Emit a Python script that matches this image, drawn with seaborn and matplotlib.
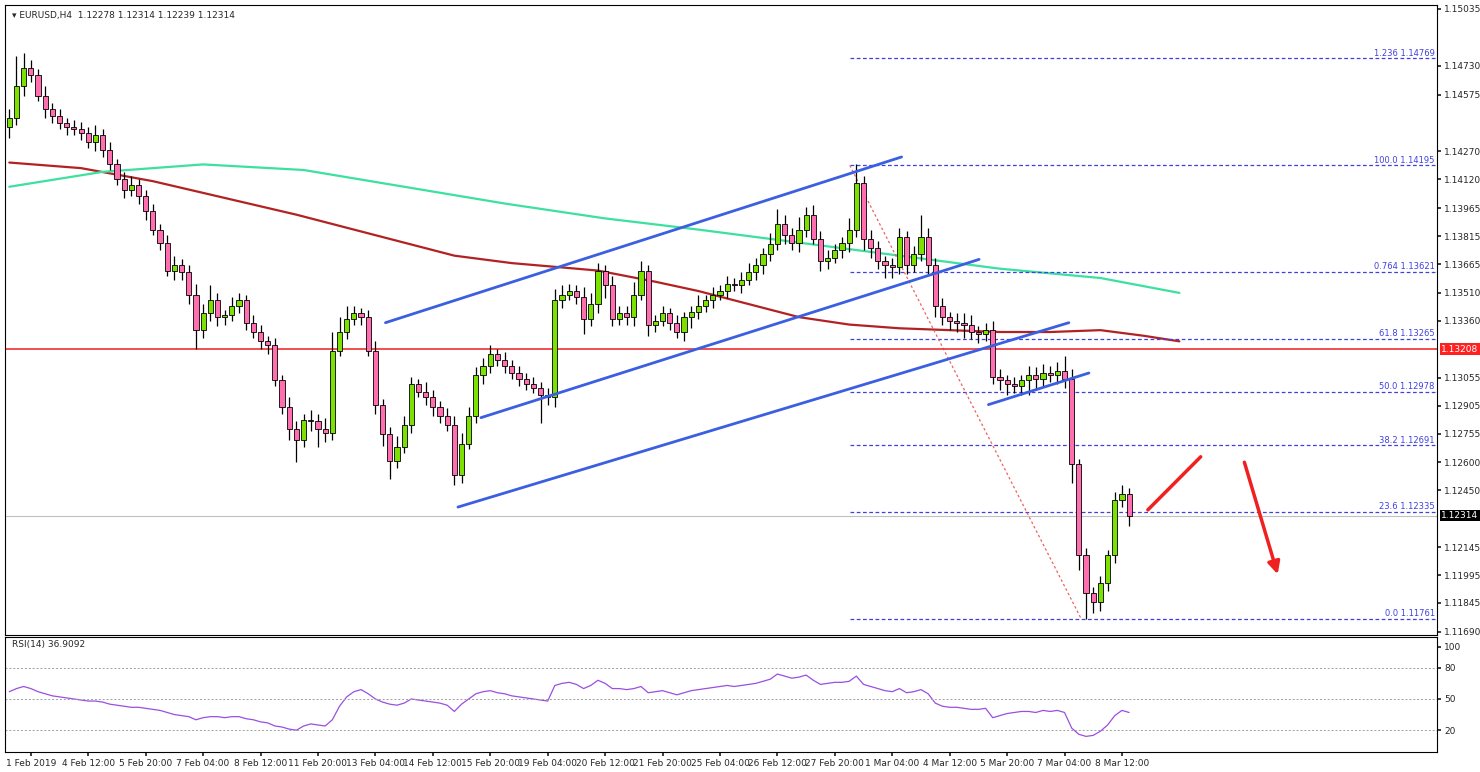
import numpy as np
import pandas as pd
import matplotlib
matplotlib.use("Agg")
import matplotlib.pyplot as plt
import seaborn as sns

sns.set_theme(style="white")
plt.rcParams['font.family'] = ['DejaVu Sans']

closes = [1.1445,1.1462,1.1472,1.1468,1.1457,1.1450,1.1446,1.1442,1.1440,1.1439,
1.1437,1.1432,1.1436,1.1428,1.1420,1.1412,1.1406,1.1409,1.1403,1.1395,
1.1385,1.1378,1.1363,1.1366,1.1362,1.1350,1.1331,1.1340,1.1347,1.1338,
1.1339,1.1344,1.1347,1.1335,1.1330,1.1325,1.1323,1.1304,1.1290,1.1278,
1.1272,1.1283,1.1282,1.1278,1.1276,1.1320,1.1330,1.1337,1.1340,1.1338,
1.1320,1.1291,1.1275,1.1261,1.1268,1.1280,1.1302,1.1298,1.1295,1.1290,
1.1285,1.1280,1.1253,1.1270,1.1285,1.1307,1.1312,1.1318,1.1315,1.1312,
1.1308,1.1305,1.1302,1.1300,1.1296,1.1295,1.1347,1.1350,1.1352,1.1349,
1.1337,1.1345,1.1363,1.1355,1.1337,1.1340,1.1338,1.1350,1.1363,1.1334,
1.1336,1.1340,1.1335,1.1330,1.1338,1.1341,1.1344,1.1347,1.1350,1.1352,
1.1356,1.1355,1.1358,1.1362,1.1366,1.1372,1.1377,1.1388,1.1382,1.1378,
1.1385,1.1393,1.1380,1.1368,1.1370,1.1374,1.1378,1.1385,1.1410,1.1380,
1.1375,1.1368,1.1366,1.1365,1.1381,1.1366,1.1372,1.1381,1.1366,1.1344,
1.1338,1.1336,1.1335,1.1334,1.1330,1.1329,1.1331,1.1306,1.1304,1.1302,
1.1301,1.1304,1.1307,1.1305,1.1308,1.1307,1.1309,1.1305,1.1259,1.1210,
1.1190,1.1185,1.1195,1.1210,1.1240,1.1243,1.1231]
first_open = 1.1440
wick_up = [5,16,8,4,3,5,3,4,3,4, 4,3,5,3,4,3,4,5,3,3, 4,3,4,5,3,4,6,5,8,4,
 3,5,4,3,4,4,3,4,3,5, 4,3,5,4,6,10,8,7,4,3, 4,5,3,4,6,5,4,3,5,4,
 3,4,5,6,5,4,4,5,3,4, 3,4,3,4,3,4,6,5,4,3, 5,6,4,3,5,4,4,7,5,3,
 3,4,3,4,3,3,6,3,4,3, 4,3,4,5,4,3,6,8,5,4, 7,4,5,4,4,3,3,6,10,4,
 5,4,3,4,5,3,4,12,5,4, 4,3,4,5,5,3,4,5,4,3, 4,3,5,4,5,4,5,8,5,3,
 4,3,4,3,4,5,3]
wick_dn = [6,4,5,4,3,5,4,3,4,3, 4,3,5,4,3,3,4,3,4,5, 3,4,3,5,4,5,10,4,4,5,
 4,3,4,4,3,4,5,3,4,6, 12,4,5,10,5,4,3,4,3,4, 3,5,6,10,4,3,4,3,4,5,
 4,3,5,4,3,4,5,4,3,4, 3,4,3,3,15,4,5,4,3,4, 8,4,5,7,4,3,4,5,3,6,
 4,3,4,3,5,6,4,3,4,3, 4,3,4,3,4,5,4,3,5,4, 5,4,3,5,4,3,4,5,4,6,
 5,4,7,6,4,5,4,4,5,6, 4,5,5,7,4,5,4,4,5,6, 4,5,8,6,4,4,5,5,10,8,
 14,6,5,4,4,4,5]
rsi = [57,60,62,60,57,55,53,52,51,50, 49,48,48,47,45,44,43,42,42,41,
 40,39,37,35,34,33,30,32,33,33, 32,33,33,31,30,28,27,24,23,21,
 20,24,26,25,24,30,43,52,57,59, 55,50,47,45,44,46,50,49,48,47,
 46,44,38,45,50,55,57,58,56,55, 53,52,51,50,49,48,63,65,66,64,
 60,63,68,65,60,60,59,60,62,56, 57,58,56,54,56,58,59,60,61,62,
 63,62,63,64,65,67,69,74,72,70, 71,73,68,64,65,66,66,67,72,64,
 62,60,58,57,60,56,57,59,55,46, 43,42,42,41,40,40,41,32,34,36,
 37,38,38,37,39,38,39,37,22,16, 14,15,19,25,34,39,37]
ma_red_idx = [0, 10, 20, 30, 40, 50, 56, 62, 70, 82, 90, 96, 103, 110, 117, 124, 131, 138, 145, 152, 158, 163]
ma_red_val = [1.1421, 1.1418, 1.1411, 1.1402, 1.1393, 1.1383, 1.1377, 1.1371, 1.1367, 1.1363, 1.1357, 1.1352,
              1.1345, 1.1338, 1.1334, 1.1332, 1.1331, 1.1330, 1.1330, 1.1331, 1.1328, 1.1325]
ma_grn_idx = [0, 13, 27, 41, 55, 69, 83, 96, 110, 124, 138, 152, 163]
ma_grn_val = [1.1408, 1.1416, 1.1420, 1.1417, 1.1408, 1.1399, 1.1391, 1.1385, 1.1378, 1.1371, 1.1364, 1.1359, 1.1351]
channels = [((52.4, 1.1335), (124.3, 1.1424)), ((65.7, 1.1284), (135.1, 1.1369)),
            ((62.5, 1.1236), (147.6, 1.1335)), ((136.4, 1.1291), (150.4, 1.1308))]
fib_lab = ["1.236", "100.0", "0.764", "61.8", "50.0", "38.2", "23.6", "0.0"]
fib_val = [1.14769, 1.14195, 1.13621, 1.13265, 1.12978, 1.12691, 1.12335, 1.11761]
xlabels = ["1 Feb 2019","4 Feb 12:00","5 Feb 20:00","7 Feb 04:00","8 Feb 12:00","11 Feb 20:00",
 "13 Feb 04:00","14 Feb 12:00","15 Feb 20:00","19 Feb 04:00","20 Feb 12:00","21 Feb 20:00",
 "25 Feb 04:00","26 Feb 12:00","27 Feb 20:00","1 Mar 04:00","4 Mar 12:00","5 Mar 20:00",
 "7 Mar 04:00","8 Mar 12:00"]
yticks = [1.15035,1.14730,1.14575,1.14270,1.14120,1.13965,1.13815,1.13665,1.13510,1.13360,
 1.13055,1.12905,1.12755,1.12600,1.12450,1.12145,1.11995,1.11845,1.11690]

n = len(closes)
idx = np.arange(n)
c = np.array(closes)
o = np.concatenate([[first_open], c[:-1]])
h = np.maximum(o, c) + np.array(wick_up) * 1e-4
l = np.minimum(o, c) - np.array(wick_dn) * 1e-4

fig = plt.figure(figsize=(14.8, 7.72), dpi=100)
W, H = 1480, 772
ax = fig.add_axes([5/W, (H-635)/H, 1432/W, 630/H])
ax2 = fig.add_axes([5/W, (H-752)/H, 1432/W, 115/H])
xmax = (1437-5)/7.2
for a in (ax, ax2):
    a.set_xlim(-0.6, xmax)
    for s in a.spines.values():
        s.set_color("black"); s.set_linewidth(0.8)
    a.yaxis.tick_right()
    a.tick_params(axis="y", labelsize=6.5, length=3, pad=2, right=True, direction="out")
ax.set_ylim(1.11673, 1.15056)

sns.lineplot(x=ma_red_idx, y=ma_red_val, ax=ax, color="#B22222", lw=1.6)
sns.lineplot(x=ma_grn_idx, y=ma_grn_val, ax=ax, color="#3CE0A0", lw=1.6)

up = c >= o
ax.vlines(idx, l, h, color="black", lw=0.9, zorder=3)
ax.bar(idx[up], (c-o)[up], bottom=o[up], width=0.72, color="#7CE000", edgecolor="black", lw=0.6, zorder=4)
ax.bar(idx[~up], (o-c)[~up], bottom=c[~up], width=0.72, color="#FF6FB0", edgecolor="black", lw=0.6, zorder=4)

for (x0, y0), (x1, y1) in channels:
    ax.plot([x0, x1], [y0, y1], color="#3A5FE0", lw=2, zorder=5)

fx0 = (848-5)/7.2
for lab, v in zip(fib_lab, fib_val):
    ax.hlines(v, fx0, xmax, color="#4040E0", lw=0.9, ls=(0, (3, 2)), zorder=2)
    ax.text(xmax-0.3, v+0.00004, f"{lab} {v:.5f}", ha="right", va="bottom", fontsize=6, color="#4040E0")
ax.plot([fx0, (1080-5)/7.2], [1.14195, 1.11761], color="#F06060", lw=0.9, ls=(0, (2, 2)), zorder=2)

ax.axhline(1.13208, color="#F03030", lw=1.2, zorder=2)
ax.axhline(1.12314, color="#C0C0C0", lw=0.8, zorder=1)

ax.plot([(1147-5)/7.2, (1200-5)/7.2], [1.12345, 1.12630], color="#F02020", lw=2.5)
ax.annotate("", xy=((1278-5)/7.2, 1.11985), xytext=((1243-5)/7.2, 1.12615),
            arrowprops=dict(arrowstyle="-|>", color="#F02020", lw=2.5, mutation_scale=18))

ax.set_yticks(yticks)
ax.set_yticklabels([f"{t:.5f}" for t in yticks])
ax.set_xticks([])
for v, fc in ((1.13208, "#FF2020"), (1.12314, "black")):
    ax.text(1.003, v, f"{v:.5f}", transform=ax.get_yaxis_transform(), fontsize=6.5, color="white",
            va="center", ha="left", bbox=dict(boxstyle="square,pad=0.15", fc=fc, ec="none"), zorder=10, clip_on=False)
ax.text(0.005, 0.99, "▾ EURUSD,H4  1.12278 1.12314 1.12239 1.12314", transform=ax.transAxes,
        fontsize=6.5, va="top", ha="left")

ax2.set_ylim(-1, 109.6)
sns.lineplot(x=idx, y=rsi, ax=ax2, color="#9A4FE0", lw=0.9)
for lv in (20, 50, 80):
    ax2.axhline(lv, color="#A0A0A0", lw=0.7, ls=(0, (2, 2)))
ax2.set_yticks([100, 80, 50, 20])
ax2.set_yticklabels(["100", "80", "50", "20"])
ax2.text(0.005, 0.97, "RSI(14) 36.9092", transform=ax2.transAxes, fontsize=6.5, va="top", ha="left")
ax2.set_xticks(np.arange(len(xlabels))*8 + 3)
ax2.set_xticklabels(xlabels, fontsize=6.5)
ax2.tick_params(axis="x", length=3, pad=2, bottom=True, direction="out")
ax2.set_ylabel(""); ax.set_ylabel("")

fig.savefig("out.png", dpi=100, facecolor="white")
